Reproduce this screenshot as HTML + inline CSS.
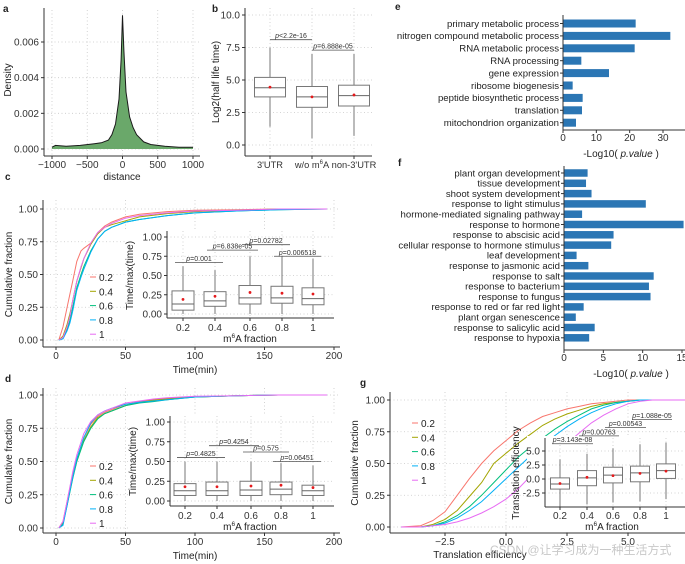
<!DOCTYPE html>
<html><head><meta charset="utf-8"><style>
html,body{margin:0;padding:0;background:#fff;}
svg{display:block;font-family:"Liberation Sans","Noto Sans CJK SC",sans-serif;}
</style></head><body>
<svg id="fig" width="685" height="564" viewBox="0 0 685 564" xmlns="http://www.w3.org/2000/svg"></svg>
<script>
// ---------- DATA ----------
const aX = [-1000,-950,-800,-600,-400,-300,-200,-150,-100,-50,-20,0,20,50,100,150,200,300,400,600,800,1000];
const aY = [0.0001,0.0002,0.00015,0.0002,0.0003,0.00035,0.0005,0.0008,0.0014,0.0028,0.005,0.0075,0.0055,0.0032,0.0018,0.0012,0.0008,0.0004,0.00025,0.00015,0.0001,0.0001];
const aXTicks = [-1000,-500,0,500,1000];
const aYTicks = [0,0.002,0.004,0.006];

const bCats = ["3'UTR","w/o m6A","non-3'UTR"];
const bQ1 = [3.7,2.9,3.0];
const bMed = [4.4,3.7,3.8];
const bQ3 = [5.2,4.5,4.6];
const bLo = [1.4,0.5,0.7];
const bHi = [7.5,7.0,7.0];
const bMean = [4.45,3.7,3.85];
const bYTicks = [0,2.5,5,7.5,10];

const seriesNames = ["0.2","0.4","0.6","0.8","1"];
const seriesColors = ["#F8766D","#A3A500","#00BF7D","#00B0F6","#E76BF3"];

const cTimes = [2,5,8,10,12,15,18,20,25,30,35,40,50,60,80,100,130,160,195];
const c02 = [0,0.1,0.25,0.35,0.45,0.6,0.68,0.70,0.74,0.82,0.87,0.9,0.94,0.96,0.98,0.99,0.995,1,1];
const c04 = [0,0.03,0.12,0.2,0.3,0.45,0.55,0.62,0.73,0.81,0.86,0.88,0.91,0.94,0.965,0.98,0.99,1,1];
const c06 = [0,0.01,0.08,0.15,0.25,0.4,0.5,0.56,0.68,0.77,0.83,0.86,0.9,0.92,0.95,0.97,0.985,0.995,1];
const c08 = [0,0.01,0.07,0.13,0.22,0.38,0.48,0.54,0.67,0.77,0.83,0.86,0.9,0.92,0.95,0.97,0.985,0.995,1];
const c1 = [0,0.02,0.1,0.18,0.3,0.45,0.56,0.62,0.74,0.82,0.86,0.89,0.93,0.95,0.97,0.985,0.99,1,1];
const cQ1 = [0.05,0.10,0.13,0.14,0.12];
const cMed = [0.13,0.17,0.21,0.21,0.20];
const cQ3 = [0.30,0.29,0.37,0.36,0.34];
const cLo = [0,0,0,0,0];
const cHi = [0.62,0.57,0.75,0.75,0.72];
const cMean = [0.19,0.23,0.28,0.27,0.26];
const cPvals = ["p=0.001","p=6.838e-05","p=0.02782","p=0.006518"];
const cPy = [0.67,0.83,0.9,0.75];

const dTimes = [2,5,8,10,12,15,20,25,30,35,40,50,60,70,80,100,130,160,195];
const d02 = [0,0.05,0.2,0.3,0.4,0.52,0.68,0.78,0.84,0.87,0.89,0.93,0.95,0.965,0.975,0.985,0.995,1,1];
const d04 = [0,0.04,0.18,0.28,0.38,0.5,0.66,0.76,0.83,0.86,0.88,0.92,0.945,0.96,0.97,0.985,0.995,1,1];
const d06 = [0,0.03,0.17,0.27,0.37,0.5,0.65,0.75,0.82,0.86,0.88,0.92,0.94,0.95,0.965,0.985,0.995,1,1];
const d08 = [0,0.02,0.17,0.28,0.38,0.52,0.68,0.79,0.85,0.88,0.9,0.93,0.945,0.955,0.965,0.985,0.995,1,1];
const d1 = [0,0.05,0.2,0.31,0.42,0.55,0.71,0.8,0.85,0.88,0.9,0.94,0.955,0.97,0.98,0.99,0.995,1,1];
const dQ1 = [0.07,0.07,0.07,0.08,0.07];
const dMed = [0.13,0.13,0.14,0.15,0.13];
const dQ3 = [0.22,0.24,0.25,0.24,0.20];
const dLo = [0,0,0,0,0];
const dHi = [0.5,0.5,0.5,0.48,0.45];
const dMean = [0.18,0.18,0.19,0.2,0.17];
const dPvals = ["p=0.4825","p=0.4254","p=0.575","p=0.06451"];
const dPy = [0.55,0.7,0.62,0.5];

const eCats = ["primary metabolic process","nitrogen compound metabolic process","RNA metabolic process","RNA processing","gene expression","ribosome biogenesis","peptide biosynthetic process","translation","mitochondrion organization"];
const eVals = [21.8,32.2,21.5,5.5,13.8,2.9,5.9,5.7,3.9];
const eTicks = [0,10,20,30];

const fCats = ["plant organ development","tissue development","shoot system development","response to light stimulus","hormone-mediated signaling pathway","response to hormone","response to abscisic acid","cellular response to hormone stimulus","leaf development","response to jasmonic acid","response to salt","response to bacterium","response to fungus","response to red or far red light","plant organ senescence","response to salicylic acid","response to hypoxia"];
const fVals = [3.0,2.8,3.5,10.4,2.3,15.2,6.3,6.0,1.6,3.1,11.4,10.8,11.0,2.5,1.5,3.9,3.2];
const fTicks = [0,5,10,15];

const gX = [-4.3,-3.5,-3,-2.5,-2,-1.5,-1,-0.5,0,0.5,1,1.5,2,2.5,3,3.5,4,4.5,5,5.5,6,7.4];
const g02 = [0,0.01,0.05,0.12,0.25,0.38,0.5,0.6,0.68,0.76,0.82,0.87,0.9,0.93,0.95,0.97,0.98,0.99,1,1,1,1];
const g04 = [0,0,0.02,0.06,0.13,0.24,0.35,0.5,0.58,0.66,0.73,0.8,0.85,0.89,0.92,0.95,0.97,0.98,0.99,1,1,1];
const g06 = [0,0,0.01,0.04,0.09,0.16,0.25,0.35,0.45,0.55,0.63,0.7,0.77,0.83,0.88,0.93,0.96,0.98,0.99,1,1,1];
const g08 = [0,0,0.01,0.03,0.07,0.13,0.2,0.29,0.38,0.47,0.56,0.64,0.72,0.79,0.85,0.9,0.94,0.97,0.99,1,1,1];
const g1 = [0,0,0.01,0.02,0.04,0.07,0.11,0.16,0.22,0.3,0.4,0.5,0.58,0.66,0.74,0.82,0.88,0.93,0.97,0.99,1,1];
const gXTicks = [-2.5,0,2.5,5];
const gQ1 = [-1.8,-1.2,-0.7,-0.5,0.1];
const gMed = [-0.9,0.2,0.7,1.1,1.5];
const gQ3 = [0.2,1.5,2.1,2.3,2.7];
const gLo = [-5,-4.5,-4.2,-4,-3.6];
const gHi = [3.5,4.5,5.5,6.2,6.5];
const gMean = [-0.8,0.3,0.6,1.0,1.4];
const gPvals = ["p=3.143e-08","p=0.00763","p=0.00543","p=1.088e-05"];
const gPy = [6.3,7.7,9.2,10.6];

const cdfTicks = [0,0.25,0.5,0.75,1];
const timeTicks = [0,50,100,150,200];

// ---------- HELPERS ----------
const NS = "http://www.w3.org/2000/svg";
const svg = document.getElementById('fig');
function mk(tag, attrs, parent){
  const e = document.createElementNS(NS, tag);
  for (const k in attrs) e.setAttribute(k, attrs[k]);
  (parent||svg).appendChild(e);
  return e;
}
function lin(d0,d1,r0,r1){ return v => r0 + (v-d0)*(r1-r0)/(d1-d0); }
function fmt2(v){ return v.toFixed(2); }
function ln(x1,y1,x2,y2,stroke,w,dash){
  const a = {x1:x1,y1:y1,x2:x2,y2:y2,stroke:stroke,'stroke-width':w||1};
  if (dash) a['stroke-dasharray']=dash;
  return mk('line',a);
}
function tx(x,y,s,size,anchor,extra){
  const a = {x:x,y:y,'font-size':size||10,'text-anchor':anchor||'start',fill:'#222'};
  for (const k in (extra||{})) a[k]=extra[k];
  const t = mk('text',a);
  t.textContent = s;
  return t;
}
const GRID = '#c8c8c8', GD = '1,2.5', AXC = '#333';

function yAxis(x, y0, y1, ticks, sy, labFmt, lblSize){
  const l = ln(x, y0, x, y1, AXC, 1);
  
  
  ticks.forEach(v => {
    ln(x-3, sy(v), x, sy(v), AXC, 1);
    const t = tx(x-5, sy(v)+3.5, labFmt(v), lblSize||10, 'end', {fill:'#333'});
    
    
  });
}
function xAxis(y, x0, x1, ticks, sx, labFmt, lblSize, labY){
  const l = ln(x0, y, x1, y, AXC, 1);
  
  
  ticks.forEach(v => {
    ln(sx(v), y, sx(v), y+3, AXC, 1);
    const t = tx(sx(v), labY, labFmt(v), lblSize||10, 'middle', {fill:'#333'});
    
    
  });
}
function gridH(vals, sy, x0, x1){ vals.forEach(v => ln(x0, sy(v), x1, sy(v), GRID, 0.8, GD)); }
function gridV(vals, sx, y0, y1){ vals.forEach(v => ln(sx(v), y0, sx(v), y1, GRID, 0.8, GD)); }
function panelLabel(x,y,s){
  const t = tx(x,y,s,10,'start',{'font-weight':'bold'});
  
  
}
function boxes(xs, sy, q1, med, q3, lo, hi, mean, bw, name){
  xs.forEach((x,i) => {
    const g = mk('g',{});
    
    
    mk('line',{x1:x,y1:sy(hi[i]),x2:x,y2:sy(q3[i]),stroke:'#777','stroke-width':1},g);
    mk('line',{x1:x,y1:sy(q1[i]),x2:x,y2:sy(lo[i]),stroke:'#777','stroke-width':1},g);
    mk('rect',{x:x-bw/2,y:sy(q3[i]),width:bw,height:sy(q1[i])-sy(q3[i]),fill:'#fff',stroke:'#777','stroke-width':1},g);
    mk('line',{x1:x-bw/2,y1:sy(med[i]),x2:x+bw/2,y2:sy(med[i]),stroke:'#666','stroke-width':1},g);
    mk('circle',{cx:x,cy:sy(mean[i]),r:1.4,fill:'#e41a1c'},g);
  });
}
function bracket(xa, xb, y, label, size){
  const l = ln(xa, y, xb, y, '#555', 0.8);
  
  
  const t = tx((xa+xb)/2, y-1.5, '', size||7, 'middle', {fill:'#333'});
  
  
  const ts1 = mk('tspan',{'font-style':'italic'},t); ts1.textContent = label.slice(0,1);
  const ts2 = mk('tspan',{},t); ts2.textContent = label.slice(1);
}
function m6ALabel(x,y,size){
  const t = tx(x,y,'',size,'middle',{fill:'#222'});
  
  
  const a = mk('tspan',{},t); a.textContent='m';
  const b = mk('tspan',{dy:-4,'font-size':size*0.65},t); b.textContent='6';
  const c = mk('tspan',{dy:4},t); c.textContent='A fraction';
}
function polyline(xs, ys, sx, sy, color, w, name){
  const pts = xs.map((v,i)=> sx(v).toFixed(1)+','+sy(ys[i]).toFixed(1)).join(' ');
  const p = mk('polyline',{points:pts,fill:'none',stroke:color,'stroke-width':w||1});
  
  
  return p;
}
function legend(x, y0, dy){
  seriesNames.forEach((n,i) => {
    const l = ln(x, y0+i*dy-3, x+6, y0+i*dy-3, seriesColors[i], 1);
    
    
    const t = tx(x+9, y0+i*dy+1, n, 10, 'start', {fill:'#222'});
    
    
  });
}
function rotLabel(x,y,s,size){
  const t = tx(x,y,s,size||10,'middle',{transform:'rotate(-90 '+x+' '+y+')'});
  
  
  return t;
}

// ---------- PANEL A ----------
panelLabel(3,12,'a');
(function(){
  const sx = lin(-1000,1000,52,193), sy = lin(0,0.006,149,42);
  gridV(aXTicks, sx, 10, 156); gridH(aYTicks, sy, 44, 200);
  const pts = [[sx(aX[0]),sy(0)]].concat(aX.map((v,i)=>[sx(v),sy(aY[i])])).concat([[sx(aX[aX.length-1]),sy(0)]]);
  const area = mk('polygon',{points:pts.map(p=>p[0].toFixed(1)+','+p[1].toFixed(1)).join(' '),fill:'#6aa86a',stroke:'none'});
  
  
  polyline(aX, aY, sx, sy, '#1a1a1a', 1, 'density-curve');
  yAxis(44, 8, 156, aYTicks, sy, v=>v.toFixed(3), 10);
  xAxis(156, 44, 200, aXTicks, sx, v=>(v<0?'\u2212':'')+Math.abs(v), 10, 168);
  const t = tx(122,180,'distance',10,'middle');  
  rotLabel(11,80,'Density',10);
})();

// ---------- PANEL B ----------
panelLabel(212,12,'b');
(function(){
  const xs = [270,312,354], sy = lin(0,10,145,15);
  gridH(bYTicks, sy, 245, 372); gridV([0,1,2].map(i=>xs[i]), v=>v, 8, 156);
  boxes(xs, sy, bQ1, bMed, bQ3, bLo, bHi, bMean, 31, 'halflife');
  bracket(xs[0], xs[1], sy(8.1), 'p<2.2e-16', 7);
  bracket(xs[1], xs[2], sy(7.3), 'p=6.888e-05', 7);
  yAxis(245, 8, 156, bYTicks, sy, v=>v.toFixed(1), 10);
  const l = ln(245,156,372,156,AXC,1);
  
  
  xs.forEach((x,i)=>{
    ln(x,156,x,159,AXC,1);
    const t = tx(x,168,'',9.3,'middle',{fill:'#333'});
    
    
    if (bCats[i]==='w/o m6A'){
      const a=mk('tspan',{},t); a.textContent='w/o m';
      const b=mk('tspan',{dy:-4,'font-size':6},t); b.textContent='6';
      const c=mk('tspan',{dy:4},t); c.textContent='A';
    } else t.textContent = bCats[i];
  });
  rotLabel(219,82,'Log2(half life time)',10);
})();

// ---------- CDF PANEL BUILDER ----------
function cdfPanel(cfg){
  const sx = lin(0,200,56,334), sy = lin(0,1,cfg.y0,cfg.y1);
  gridV(timeTicks, sx, cfg.top, cfg.bottom); gridH(cdfTicks, sy, 43, 340);
  cfg.series.forEach((s,i)=> polyline(cfg.times, s, sx, sy, seriesColors[i], 1, 'cdf-line-'+seriesNames[i]));
  yAxis(43, cfg.top, cfg.bottom, cdfTicks, sy, fmt2, 10);
  xAxis(cfg.bottom, 43, 340, timeTicks, sx, v=>String(v), 10, cfg.bottom+12);
  const t = tx(195, cfg.bottom+26, 'Time(min)', 10, 'middle');  
  rotLabel(12, (cfg.y0+cfg.y1)/2, 'Cumulative fraction', 10);
  legend(90, cfg.legY, 14.3);
  // inset
  const bg = mk('rect',{x:cfg.ix-42,y:cfg.iy1-8,width:340-(cfg.ix-42),height:cfg.iaxis+26-(cfg.iy1-8),fill:'#fff'});
  
  
  const isy = lin(0,1,cfg.iy0,cfg.iy1);
  gridH(cdfTicks, isy, cfg.ix, 334); gridV(cfg.icx, v=>v, cfg.iy1-6, cfg.iaxis);
  boxes(cfg.icx, isy, cfg.b[0], cfg.b[1], cfg.b[2], cfg.b[3], cfg.b[4], cfg.b[5], 22, cfg.name);
  cfg.brk.forEach((pair,i)=> bracket(cfg.icx[pair[0]]-8, cfg.icx[pair[1]]+8, isy(cfg.py[i]), cfg.pv[i], 7));
  yAxis(cfg.ix, cfg.iy1-6, cfg.iaxis, cdfTicks, isy, fmt2, 10);
  const l = ln(cfg.ix, cfg.iaxis, 334, cfg.iaxis, AXC, 1);
  
  
  cfg.icx.forEach((x,i)=>{
    ln(x,cfg.iaxis,x,cfg.iaxis+3,AXC,1);
    const t2 = tx(x,cfg.iaxis+13,seriesNames[i],10,'middle',{fill:'#333'});
    
    
  });
  m6ALabel(250, cfg.iaxis+24, 10);
  rotLabel(cfg.ix-34, (cfg.iy0+cfg.iy1)/2, 'Time/max(time)', 10);
}

panelLabel(5,180,'c');
cdfPanel({times:cTimes, series:[c02,c04,c06,c08,c1], y0:340, y1:209, top:200, bottom:347, legY:280,
  ix:167, iy0:314, iy1:237, iaxis:318, icx:[183,215,250,282,313],
  b:[cQ1,cMed,cQ3,cLo,cHi,cMean], brk:[[0,1],[1,2],[2,3],[3,4]], py:cPy, pv:cPvals, name:'c-inset'});

panelLabel(5,382,'d');
cdfPanel({times:dTimes, series:[d02,d04,d06,d08,d1], y0:528, y1:395, top:388, bottom:533, legY:469,
  ix:170, iy0:501, iy1:422, iaxis:506, icx:[185,217,251,281,313],
  b:[dQ1,dMed,dQ3,dLo,dHi,dMean], brk:[[0,1],[1,2],[2,3],[3,4]], py:dPy, pv:dPvals, name:'d-inset'});

// ---------- BAR PANELS ----------
function barPanel(cats, vals, ticks, x0, xmax, xAtMax, yFirst, dy, bh, size, axBottom, top, name){
  const sx = lin(0, xmax, x0, xAtMax);
  cats.forEach((c,i)=>{
    const y = yFirst + i*dy;
    const r = mk('rect',{x:x0,y:y-bh/2,width:sx(vals[i])-x0,height:bh,fill:'#2b76b4'});
    
    
    ln(x0-3,y,x0,y,AXC,1);
    const t = tx(x0-4, y+3.3, c, size, 'end', {fill:'#222'});
    
    
  });
  const l = ln(x0, top, x0, axBottom, AXC, 1);
  
  
  xAxis(axBottom, x0, 685, ticks, sx, v=>String(v), 10, axBottom+11);
  const t = tx(sx(xmax*0.5)+8, axBottom+27, '-Log10( ', 10, 'middle', {fill:'#222'});
  
  
  const it = mk('tspan',{'font-style':'italic'},t); it.textContent='p.value';
  const e = mk('tspan',{},t); e.textContent=' )';
}
panelLabel(395,10,'e');
barPanel(eCats, eVals, eTicks, 563, 30, 663, 23.5, 12.4, 8, 9.6, 130, 15, 'e');
panelLabel(398,166,'f');
barPanel(fCats, fVals, fTicks, 564, 15, 682, 173, 10.3, 7.5, 9.6, 350, 166, 'f');

// ---------- PANEL G ----------
panelLabel(360,386,'g');
(function(){
  const sx = lin(0,2.5,506,567), sy = lin(0,1,527,400);
  gridV(gXTicks, sx, 392, 533); gridH(cdfTicks, sy, 390, 685);
  [g02,g04,g06,g08,g1].forEach((s,i)=> polyline(gX, s, sx, sy, seriesColors[i], 1, 'te-cdf-line-'+seriesNames[i]));
  yAxis(390, 392, 533, cdfTicks, sy, fmt2, 10);
  xAxis(533, 390, 685, gXTicks, sx, v=>v===0?'0.0':(v<0?'\u2212':'')+Math.abs(v).toFixed(1), 10, 545);
  const t = tx(480, 558, 'Translation efficiency', 10, 'middle');  
  rotLabel(358, 463, 'Cumulative fraction', 10);
  legend(412, 426, 14.3);
  // inset
  const bg = mk('rect',{x:527,y:436,width:158,height:96,fill:'#fff'});
  
  
  const icx = [560,587,613,640,666];
  const isy = lin(0,2.5,479,465);
  const iTicks = [-2.5,0,2.5,5];
  gridH(iTicks, isy, 545, 685); gridV(icx, v=>v, 438, 507);
  boxes(icx, isy, gQ1, gMed, gQ3, gLo, gHi, gMean, 19, 'g-inset');
  [[0,1],[1,2],[2,3],[3,4]].forEach((p,i)=> bracket(icx[p[0]]-8, icx[p[1]]+6, isy(gPy[i]), gPvals[i], 7));
  yAxis(545, 438, 507, iTicks, isy, v=>v.toFixed(1), 10);
  const l = ln(545,507,685,507,AXC,1);
  
  
  icx.forEach((x,i)=>{
    ln(x,507,x,510,AXC,1);
    const t2 = tx(x,519,seriesNames[i],10,'middle',{fill:'#333'});
    
    
  });
  m6ALabel(612, 530, 10);
  rotLabel(519, 473, 'Translation efficiency', 10);
})();

const wm = tx(490, 554, 'CSDN @让学习成为一种生活方式', 12, 'start', {fill:'#bbb', opacity:0.8});


</script>
</body></html>
